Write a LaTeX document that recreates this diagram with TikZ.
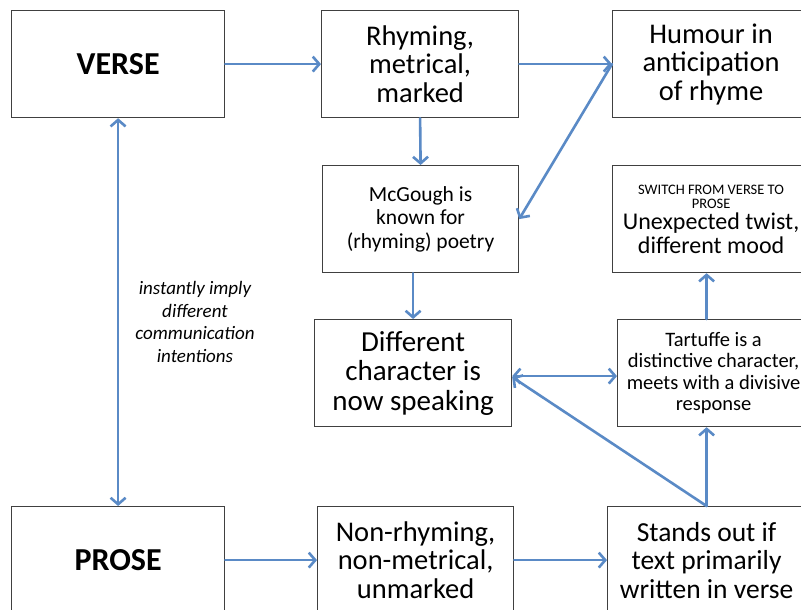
\documentclass[tikz,border=0pt]{standalone}
\usepackage{fontspec}
\setmainfont{Carlito}
\usetikzlibrary{arrows.meta}
\definecolor{linkblue}{HTML}{5A8AC6}
\definecolor{boxline}{HTML}{404040}
\tikzset{
  card/.style={draw=boxline, line width=1.2pt, fill=white, minimum width=197pt,
    minimum height=107pt, inner sep=0pt, align=center, anchor=north west},
  bigtext/.style={font=\fontsize{28.5}{28.5}\selectfont},
  midtext/.style={font=\fontsize{21.5}{23.5}\selectfont},
  link/.style={draw=linkblue, line width=2.6pt, line cap=round,
    >={Straight Barb[length=6.5pt,width=15pt,line width=2.6pt]}, ->},
  duallink/.style={link, <->}
}
\begin{document}
\begin{tikzpicture}[x=1pt, y=-1pt]
\useasboundingbox (0,0) rectangle (801,610);
\clip (0,0) rectangle (801,610);
\fill[white] (0,0) rectangle (801,610);

% top row
\node[card, minimum width=213pt, font=\fontsize{32}{32}\selectfont\bfseries] (verse) at (11,10) {VERSE};
\node[card, bigtext] (rhym) at (321,10) {Rhyming,\\metrical,\\marked};
\node[card, bigtext] (humour) at (612,10) {Humour in\\anticipation\\of rhyme};

% second row
\node[card, midtext, minimum width=196pt] (mcg) at (322,165) {McGough is\\known for\\(rhyming) poetry};
\node[card, font=\fontsize{24}{24}\selectfont] (switch) at (612,165)
  {{\fontsize{14.5}{17}\selectfont SWITCH FROM VERSE TO}\\[-9.5pt]
   {\fontsize{14.5}{17}\selectfont PROSE}\\[-3.5pt]
   Unexpected twist,\\
   different mood};

% third row
\node[card, font=\fontsize{29}{29.5}\selectfont] (diff) at (314,319) {Different\\character is\\now speaking};
\node[card, font=\fontsize{20.5}{21.5}\selectfont, minimum width=192pt] (tart) at (617,319)
  {Tartuffe is a\\distinctive character,\\meets with a divisive\\response};

% bottom row
\node[card, minimum width=213pt, font=\fontsize{32}{32}\selectfont\bfseries] (prose) at (11,506) {PROSE};
\node[card, bigtext, minimum width=196pt] (nonr) at (317,506) {Non-rhyming,\\non-metrical,\\unmarked};
\node[card, font=\fontsize{27.5}{28.5}\selectfont, minimum width=198pt] (stand) at (607,506)
  {Stands out if\\text primarily\\written in verse};

% side note
\node[font=\fontsize{19}{22.5}\selectfont\itshape, align=center] (note) at (195,322)
  {instantly imply\\different\\communication\\intentions};

% connectors
\draw[link] (verse.east) -- (rhym.west);
\draw[link] (rhym.east) -- (humour.west);
\draw[link] (rhym.south) -- (mcg.north);
\draw[link] (humour.west) -- (mcg.east);
\draw[link] (diff.north |- mcg.south) -- (diff.north);
\draw[duallink] ([yshift=-3pt]diff.east) -- ([yshift=-3pt]tart.west);
\draw[link] (stand.north) -- ([yshift=-4pt]diff.east);
\draw[link] (stand.north) -- (stand.north |- tart.south);
\draw[link] (stand.north |- tart.north) -- (stand.north |- switch.south);
\draw[duallink] (verse.south) -- (prose.north);
\draw[link] (prose.east) -- (nonr.west);
\draw[link] (nonr.east) -- (stand.west);
\end{tikzpicture}
\end{document}
